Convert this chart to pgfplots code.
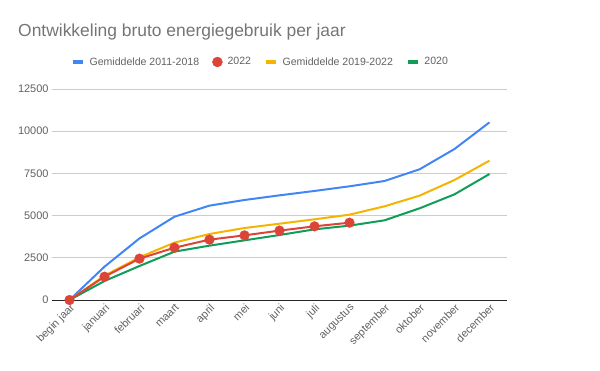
\documentclass[border=0pt]{standalone}
\usepackage{pgfplots}
\pgfplotsset{compat=1.18}
\usepackage{fontspec}
\setmainfont{Liberation Sans}
\definecolor{gblue}{HTML}{4285F4}
\definecolor{gred}{HTML}{DB4437}
\definecolor{gyellow}{HTML}{F4B400}
\definecolor{ggreen}{HTML}{0F9D58}
\definecolor{gtitle}{HTML}{757575}
\definecolor{gtick}{HTML}{616161}
\definecolor{ggrid}{HTML}{CCCCCC}
\begin{document}
\begin{tikzpicture}
\useasboundingbox (0bp,0bp) rectangle (600bp,371bp);
\node[anchor=base west, inner sep=0, text=gtitle, font=\fontsize{17.5}{20}\selectfont] at (18bp,334bp) {Ontwikkeling bruto energiegebruik per jaar};
\begin{axis}[
  at={(52bp,71bp)}, anchor=south west,
  scale only axis, width=455bp, height=211bp,
  xmin=-0.5, xmax=12.5, ymin=0, ymax=12500,
  xtick={0,...,12},
  xticklabels={begin jaar,januari,februari,maart,april,mei,juni,juli,augustus,september,oktober,november,december},
  x tick label style={rotate=45, anchor=north east, font=\fontsize{11}{12}\selectfont, text=gtick, inner sep=2bp},
  ytick={0,2500,...,12500},
  scaled y ticks=false,
  y tick label style={font=\fontsize{11}{12}\selectfont, text=gtick},
  /pgf/number format/.cd, 1000 sep={}, assume math mode=true, /pgfplots/.cd,
  major tick length=0pt,
  axis line style={draw=none},
  ymajorgrids, grid style={ggrid, line width=0.8bp},
  extra y ticks={0}, extra y tick labels={},
  extra y tick style={grid style={black!85, line width=1bp}},
  legend style={draw=none, fill=none, at={(0.035,1.128)}, anchor=west,
    legend columns=4, font=\fontsize{10.6}{12}\selectfont, text=gtick,
    nodes={inner xsep=4bp},
    /tikz/every even column/.append style={column sep=9bp},
    /tikz/every odd column/.append style={column sep=1bp}},
  legend cell align=left,
]
\addlegendimage{legend image code/.code={\draw[gblue, line width=3.5bp] (0bp,0bp) -- (10bp,0bp);}}
\addlegendentry{Gemiddelde 2011-2018}
\addlegendimage{legend image code/.code={\fill[gred] (5bp,0bp) circle (5bp);}}
\addlegendentry{2022}
\addlegendimage{legend image code/.code={\draw[gyellow, line width=3.5bp] (0bp,0bp) -- (10bp,0bp);}}
\addlegendentry{Gemiddelde 2019-2022}
\addlegendimage{legend image code/.code={\draw[ggreen, line width=3.5bp] (0bp,0bp) -- (10bp,0bp);}}
\addlegendentry{2020}

\addplot[gblue, line width=2bp, forget plot] coordinates {
(0,0) (1,1975) (2,3650) (3,4935) (4,5590) (5,5925) (6,6200) (7,6460) (8,6735) (9,7050) (10,7740) (11,8945) (12,10525)};
\addplot[gyellow, line width=2bp, forget plot] coordinates {
(0,0) (1,1440) (2,2530) (3,3400) (4,3910) (5,4265) (6,4520) (7,4780) (8,5055) (9,5550) (10,6180) (11,7110) (12,8255)};
\addplot[ggreen, line width=2bp, forget plot] coordinates {
(0,0) (1,1125) (2,2015) (3,2865) (4,3220) (5,3535) (6,3850) (7,4185) (8,4405) (9,4720) (10,5430) (11,6260) (12,7465)};
\addplot[gred, line width=2bp, mark=*, mark size=5bp, mark options={solid, fill=gred, draw=none, line width=0.1bp}, forget plot] coordinates {
(0,0) (1,1380) (2,2450) (3,3100) (4,3575) (5,3830) (6,4110) (7,4365) (8,4580)};
\end{axis}
\end{tikzpicture}
\end{document}
